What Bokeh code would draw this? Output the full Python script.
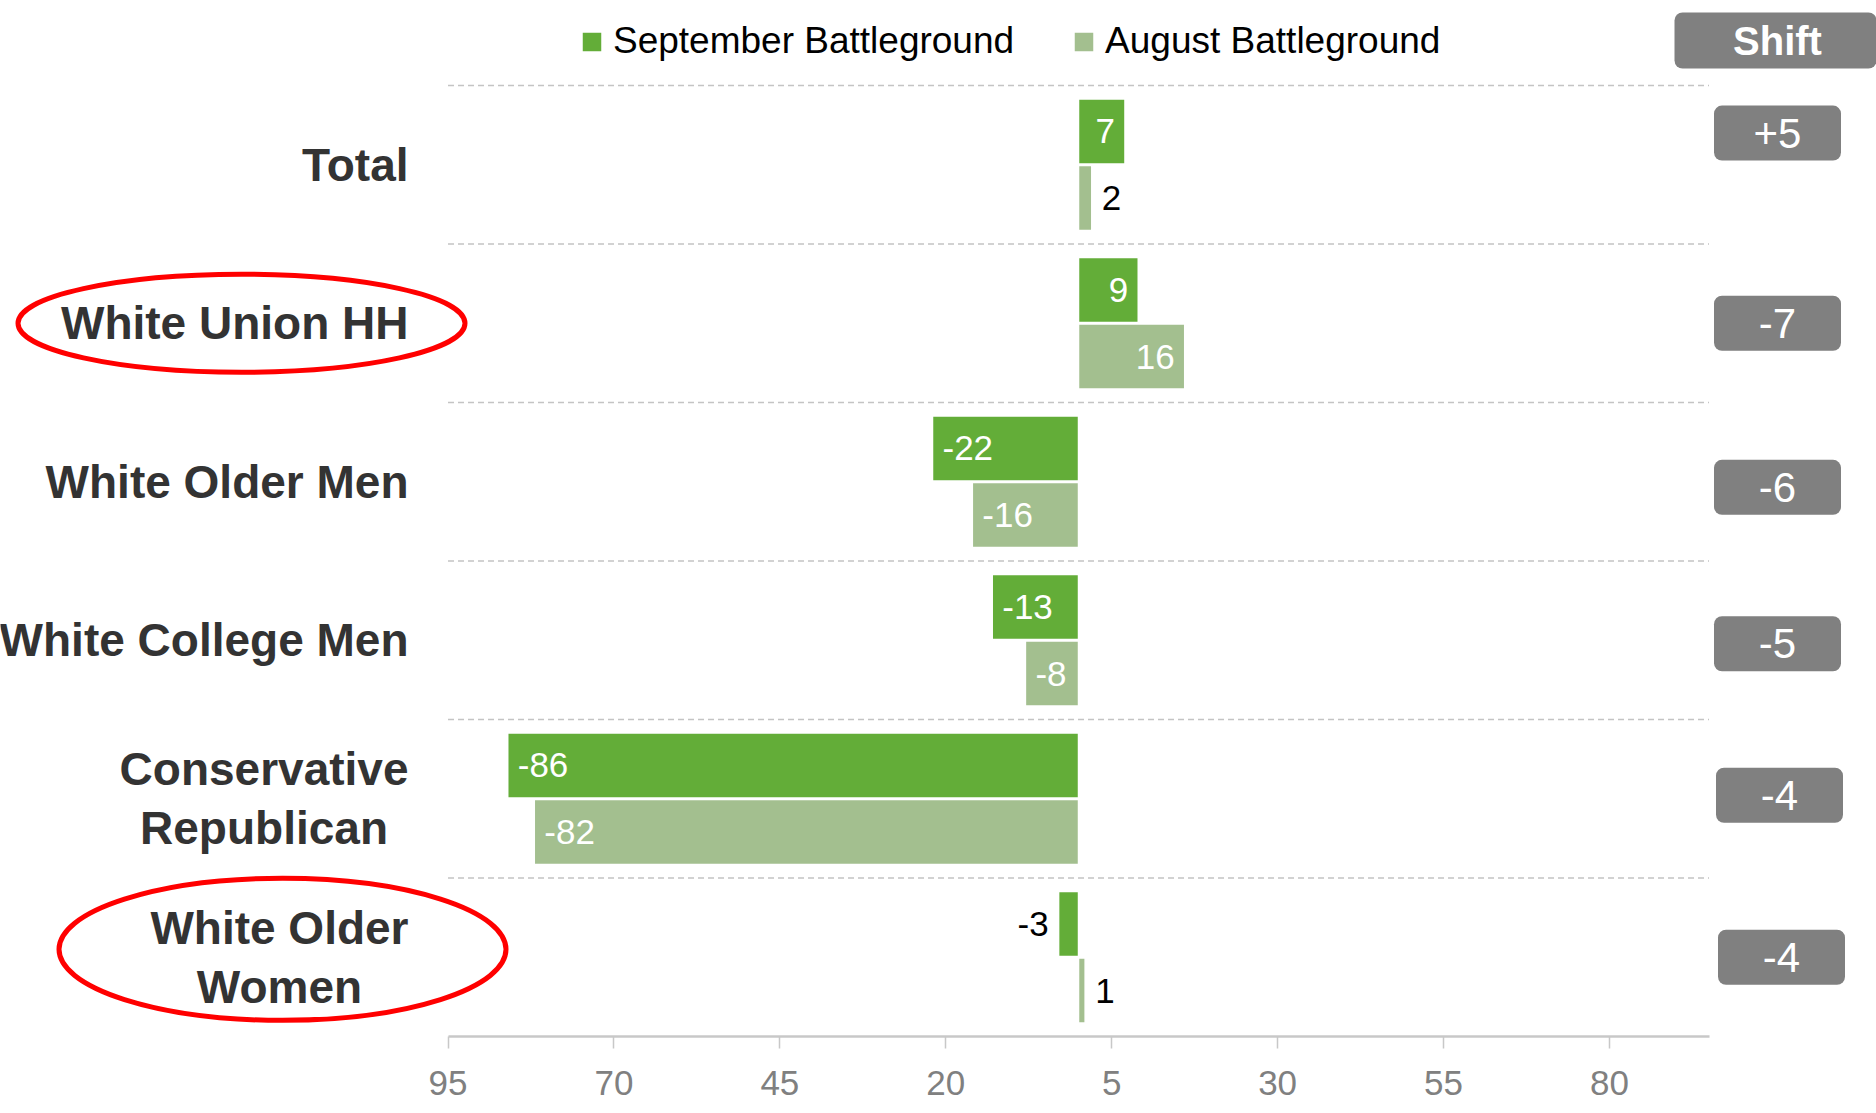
from bokeh.plotting import figure
from bokeh.models import ColumnDataSource, FixedTicker, Legend, LegendItem, Range1d
from bokeh.core.properties import value
from bokeh.embed import file_html
from bokeh.resources import INLINE

# ---------------- data ----------------
categories = ["Total", "White Union HH", "White Older Men", "White College Men",
              "Conservative\nRepublican", "White Older\nWomen"]
september = [7, 9, -22, -13, -86, -3]
august = [2, 16, -16, -8, -82, 1]
tick_values = [-95, -70, -45, -20, 5, 30, 55, 80]
tick_labels = ["95", "70", "45", "20", "5", "30", "55", "80"]
circled = ["White Union HH", "White Older\nWomen"]
series_names = ["September Battleground", "August Battleground"]

# ---------------- styling / layout ----------------
SEPT_COLOR = "#63ad38"
AUG_COLOR = "#a3bf8f"
GRAY = "#808080"
LABEL_COLOR = "#333333"
FONT = "Liberation Sans"

FRAME_W = 1876
ROW = 158.5               # px per category row
TOP_PX = 85               # px from frame top to first separator
FRAME_H = int(round(TOP_PX + ROW * len(categories)))
PX = 6.637                # px per data unit on x
LEFT_PX = 447.5           # screen x of -95
x_start = -95 - LEFT_PX / PX
x_end = x_start + FRAME_W / PX
y_top = -0.5 - TOP_PX / ROW
y_bottom = y_top + FRAME_H / ROW

def sx(px):
    return x_start + px / PX

def sy(py):
    return y_top + py / ROW

n = len(categories)
idx = list(range(n))
BAR_H = 0.41
DODGE = 0.21

p = figure(frame_width=FRAME_W, frame_height=FRAME_H, output_backend="svg",
           toolbar_location=None, x_range=Range1d(x_start, x_end),
           y_range=Range1d(y_bottom, y_top), y_axis_location=None,
           min_border=0, outline_line_color=None, background_fill_color="white",
           border_fill_color="white")
p.xgrid.visible = False
p.ygrid.visible = False

# dashed row separators
sep_y = [i - 0.5 for i in idx]
p.segment(x0=[-95] * n, x1=[95] * n, y0=sep_y, y1=sep_y,
          line_color="#c4c4c4", line_width=1.5, line_dash="6 4")

# bars
src_s = ColumnDataSource(dict(y=[i - DODGE for i in idx], v=september))
src_a = ColumnDataSource(dict(y=[i + DODGE for i in idx], v=august))
r_s = p.hbar(y="y", left=0, right="v", height=BAR_H, source=src_s,
             fill_color=SEPT_COLOR, line_color="white", line_width=1.5)
r_a = p.hbar(y="y", left=0, right="v", height=BAR_H, source=src_a,
             fill_color=AUG_COLOR, line_color="white", line_width=1.5)

# value labels
def label_cols(vals, ys):
    xs, offs, aligns, colors, texts = [], [], [], [], []
    for v in vals:
        inside = abs(v) >= 5
        if inside:
            offs.append(-10 if v > 0 else 10)
            aligns.append("right" if v > 0 else "left")
            colors.append("white")
        else:
            offs.append(10 if v > 0 else -10)
            aligns.append("left" if v > 0 else "right")
            colors.append("black")
        xs.append(v)
        texts.append(str(v))
    return dict(x=xs, y=list(ys), xoff=offs, align=aligns, color=colors, text=texts)

for vals, ys in [(september, [i - DODGE for i in idx]), (august, [i + DODGE for i in idx])]:
    s = ColumnDataSource(label_cols(vals, ys))
    p.text(x="x", y="y", text="text", x_offset="xoff", text_align="align",
           text_color="color", text_baseline="middle", text_font=value(FONT),
           text_font_size="35px", source=s)

# category labels
p.text(x=[sx(408)] * n, y=idx, text=categories, text_align="center",
       anchor=value("center_right"), text_baseline="middle",
       text_font=value(FONT), text_font_style="bold", text_font_size="46px",
       text_color=LABEL_COLOR, text_line_height=1.13)

# red ellipses around highlighted labels
ell_cx_px = [241, 282]
ell_h_px = [98, 142]
ell_dy = [0.0, -0.05]
ell_y = [categories.index(c) + d for c, d in zip(circled, ell_dy)]
p.ellipse(x=[sx(c) for c in ell_cx_px], y=ell_y, width=447, height=ell_h_px,
          width_units="screen", height_units="screen", fill_alpha=0,
          line_color="#ff0000", line_width=5)

# shift column
shift = [s - a for s, a in zip(september, august)]
shift_txt = [("+%d" % d) if d > 0 else str(d) for d in shift]
box_dy = [-0.2, 0.0, 0.035, 0.022, -0.022, 0.0]
box_dx_px = [0, 0, 0, 0, 2, 4]
box_y = [i + d for i, d in zip(idx, box_dy)]
box_cx = [sx(1777 + d) for d in box_dx_px]
box_half = 63.5 / PX
p.hbar(y=box_y, left=[c - box_half for c in box_cx], right=[c + box_half for c in box_cx],
       height=55 / ROW, fill_color=GRAY, line_color=None, border_radius=8)
p.text(x=box_cx, y=box_y, text=shift_txt, text_align="center", text_baseline="middle",
       text_font=value(FONT), text_font_size="42px", text_color="white")

# header
p.hbar(y=[sy(40)], left=[sx(1674)], right=[x_end + 5], height=56 / ROW,
       fill_color=GRAY, line_color=None, border_radius=8)
p.text(x=[sx(1777)], y=[sy(40)], text=["Shift"], text_align="center", text_baseline="middle",
       text_font=value(FONT), text_font_style="bold", text_font_size="40px",
       text_color="white")

# legend
legend = Legend(items=[LegendItem(label=series_names[0], renderers=[r_s]),
                       LegendItem(label=series_names[1], renderers=[r_a])],
                orientation="horizontal", location=(579, FRAME_H - 62),
                glyph_width=25, glyph_height=25, label_standoff=9, spacing=57,
                padding=0, margin=0, border_line_alpha=0, background_fill_alpha=0,
                label_text_font=FONT, label_text_font_size="37px",
                label_text_color="black")
p.add_layout(legend)

# x axis
ax = p.xaxis[0]
ax.ticker = FixedTicker(ticks=tick_values)
ax.major_label_overrides = {v: l for v, l in zip(tick_values, tick_labels)}
ax.bounds = (-95, 95)
ax.axis_line_color = "#c8c8c8"
ax.axis_line_width = 2.5
ax.major_tick_line_color = "#c8c8c8"
ax.major_tick_line_width = 1.5
ax.major_tick_out = 12
ax.major_tick_in = 0
ax.minor_tick_out = 0
ax.minor_tick_in = 0
ax.major_label_text_font = FONT
ax.major_label_text_font_size = "35px"
ax.major_label_text_color = GRAY
ax.major_label_standoff = 22

open("out.html", "w").write(file_html(p, INLINE))
